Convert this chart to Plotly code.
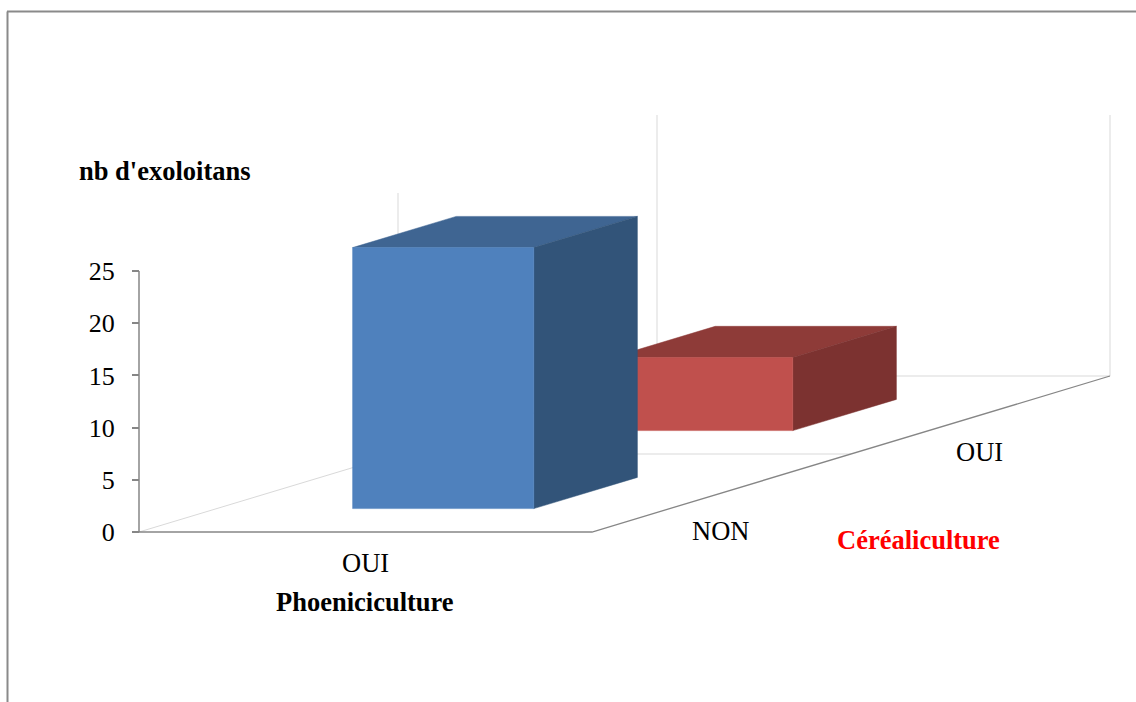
import plotly.graph_objects as go

# Data
phoeniciculture_categories = ["OUI"]
cerealiculture_categories = ["NON", "OUI"]
nb_exploitants_non = [25]
nb_exploitants_oui = [7]
value_ticks = [0, 5, 10, 15, 20, 25]
value_max = 25

title_y = "nb d'exoloitans"
title_x = "Phoeniciculture"
title_depth = "Céréaliculture"

# Oblique 3D projection (depth 0..1 onto the 2D axes)
W, H = 1136, 702
PX_X0, PX_Y0 = 139, 532          # pixel position of the origin
PX_PER_X = 453                   # pixels for one x unit
PX_PER_V = 261 / value_max       # pixels for one value unit
DEPTH_DX = 518 / PX_PER_X        # x shift over the full depth
DEPTH_DV = 156 / PX_PER_V        # value shift over the full depth
BAR_W, BAR_D = 0.4, 0.2          # bar size in category units

GRID = "#D9D9D9"
AXIS = "#868686"
FONT = "Liberation Serif"


def proj(x, v, d):
    return x + d * DEPTH_DX, v + d * DEPTH_DV


def poly(points, color):
    pts = [proj(*p) for p in points] + [proj(*points[0])]
    return go.Scatter(x=[p[0] for p in pts], y=[p[1] for p in pts], mode="lines",
                      fill="toself", fillcolor=color, line=dict(color=color, width=0.5),
                      hoverinfo="skip", showlegend=False)


def line(points, color, width=1.0):
    pts = [proj(*p) for p in points]
    return go.Scatter(x=[p[0] for p in pts], y=[p[1] for p in pts], mode="lines",
                      line=dict(color=color, width=width), hoverinfo="skip", showlegend=False)


def bar(xc, dc, v, front, top, side):
    x0, x1 = xc - BAR_W / 2, xc + BAR_W / 2
    d0, d1 = dc - BAR_D / 2, dc + BAR_D / 2
    return [
        poly([(x0, v, d0), (x1, v, d0), (x1, v, d1), (x0, v, d1)], top),
        poly([(x1, 0, d0), (x1, 0, d1), (x1, v, d1), (x1, v, d0)], side),
        poly([(x0, 0, d0), (x1, 0, d0), (x1, v, d0), (x0, v, d0)], front),
    ]


n = len(cerealiculture_categories)
traces = [
    # walls and floor
    line([(0, 0, 0.5), (0, value_max, 0.5)], GRID),
    line([(0, 0, 1), (0, value_max, 1)], GRID),
    line([(1, 0, 1), (1, value_max, 1)], GRID),
    line([(0, 0, 0), (0, 0, 1), (1, 0, 1)], GRID),
    line([(0, 0, 0.5), (1, 0, 0.5)], GRID),
    # axes
    line([(0, 0, 0), (1, 0, 0), (1, 0, 1)], AXIS, 1.3),
    line([(0, 0, 0), (0, value_max, 0)], AXIS, 1.5),
]
traces += bar(0.5, 1.5 / n, nb_exploitants_oui[0], "#C0504D", "#8E3B38", "#7C3230")
traces += bar(0.5, 0.5 / n, nb_exploitants_non[0], "#4F81BD", "#3F6592", "#325479")

fig = go.Figure(traces)


def text(t, px, py, size=24, bold=False, color="black"):
    fig.add_annotation(text=f"<b>{t}</b>" if bold else t, xref="paper", yref="paper",
                       x=px / W, y=1 - py / H, showarrow=False, xanchor="center", yanchor="middle",
                       font=dict(family=FONT, size=size, color=color))


text(phoeniciculture_categories[0], 365, 563, 26.5)
text(cerealiculture_categories[0], 720, 531, 26.5)
text(cerealiculture_categories[1], 979, 452, 26.5)
text(title_y, 165, 171, 26.5, True)
text(title_x, 365, 602, 26.5, True)
text(title_depth, 918, 540, 26.5, True, "#FF0000")

fig.update_layout(
    width=W, height=H, margin=dict(l=0, r=0, t=0, b=0),
    paper_bgcolor="white", plot_bgcolor="white", showlegend=False,
    xaxis=dict(range=[-PX_X0 / PX_PER_X, (W - PX_X0) / PX_PER_X], visible=False),
    yaxis=dict(range=[-(H - PX_Y0) / PX_PER_V, PX_Y0 / PX_PER_V], anchor="free", position=PX_X0 / W,
               tickmode="array", tickvals=value_ticks, ticks="outside", ticklen=7, tickcolor=AXIS,
               tickwidth=1.5, showgrid=False, zeroline=False, showline=False, ticklabelstandoff=12,
               tickfont=dict(family=FONT, size=26, color="black")),
    shapes=[dict(type="line", xref="paper", yref="paper", x0=7.5 / W, x1=7.5 / W, y0=0, y1=1 - 11.5 / H,
                 line=dict(color="#8A8A8A", width=2)),
            dict(type="line", xref="paper", yref="paper", x0=7 / W, x1=1, y0=1 - 11.5 / H, y1=1 - 11.5 / H,
                 line=dict(color="#8A8A8A", width=2))],
)

fig.write_html("out.html", config={"displayModeBar": False},
               post_script="document.body.style.margin='0';document.body.style.overflow='hidden';")
